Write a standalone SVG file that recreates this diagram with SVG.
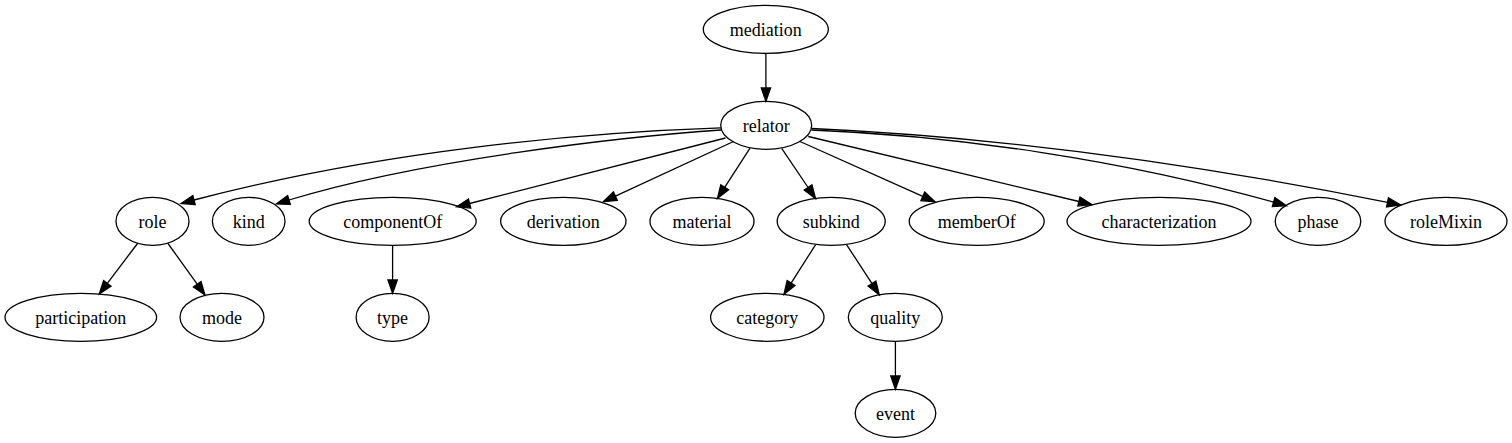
<svg xmlns="http://www.w3.org/2000/svg" width="1512" height="443" viewBox="0 0 1512 443">
<style>
.n ellipse{fill:none;stroke:#000;stroke-width:1.3}
.n text{font-family:"Liberation Serif","Times New Roman",serif;font-size:18px;fill:#000;text-anchor:middle}
.e path{fill:none;stroke:#000;stroke-width:1.3;marker-end:url(#ah)}
</style>
<defs>
<marker id="ah" markerUnits="userSpaceOnUse" markerWidth="16" markerHeight="12" refX="0" refY="4.67" orient="auto" overflow="visible">
<path d="M0,0 L13.3,4.67 L0,9.33 z" fill="#000" stroke="#000" stroke-width="1.3"/>
</marker>
</defs>
<rect width="1512" height="443" fill="#fff"/>
<g id="edges" class="e">
<path d="M765.9,53.3 L765.9,88"/>
<path d="M721,127.8 C580,132.5 380,151 194,200"/>
<path d="M721,130 C620,137 420,160 289,200"/>
<path d="M725.5,138 L469.6,203.5"/>
<path d="M733.5,141.5 L615.4,196.1"/>
<path d="M750,148.2 L724.7,187.3"/>
<path d="M781.7,148.3 L808.1,187.5"/>
<path d="M800,141.5 L922.8,196.3"/>
<path d="M808.3,136.5 L1078.9,201.5"/>
<path d="M811.5,130 C960,136 1123.6,160.1 1273.6,202.1"/>
<path d="M811.5,128.5 C1000,137 1200,164.8 1387.5,202.3"/>
<path d="M137.5,243.5 L107.3,283.3"/>
<path d="M168,243.5 L197.2,284.2"/>
<path d="M392.6,245.3 L392.6,280"/>
<path d="M815.5,244.8 L791.1,283.1"/>
<path d="M846.7,244.8 L872,283.6"/>
<path d="M895.4,341.3 L895.4,376"/>
</g>
<g id="mediation" class="n"><ellipse cx="765.8" cy="29.3" rx="62.5" ry="24"/><text x="765.8" y="35.5">mediation</text></g>
<g id="relator" class="n"><ellipse cx="766.2" cy="125.3" rx="45.5" ry="24"/><text x="766.2" y="131.5">relator</text></g>
<g id="role" class="n"><ellipse cx="152.5" cy="221.3" rx="36.5" ry="24"/><text x="152.5" y="227.5">role</text></g>
<g id="kind" class="n"><ellipse cx="248.7" cy="221.3" rx="36.3" ry="24"/><text x="248.7" y="227.5">kind</text></g>
<g id="componentOf" class="n"><ellipse cx="392.7" cy="221.3" rx="83.5" ry="24"/><text x="392.7" y="227.5">componentOf</text></g>
<g id="derivation" class="n"><ellipse cx="563.3" cy="221.3" rx="62.7" ry="24"/><text x="563.3" y="227.5">derivation</text></g>
<g id="material" class="n"><ellipse cx="702" cy="221.3" rx="52" ry="24"/><text x="702" y="227.5">material</text></g>
<g id="subkind" class="n"><ellipse cx="831.2" cy="221.3" rx="54" ry="24"/><text x="831.2" y="227.5">subkind</text></g>
<g id="memberOf" class="n"><ellipse cx="976.7" cy="221.3" rx="67.5" ry="24"/><text x="976.7" y="227.5">memberOf</text></g>
<g id="characterization" class="n"><ellipse cx="1159" cy="221.3" rx="92" ry="24"/><text x="1159" y="227.5">characterization</text></g>
<g id="phase" class="n"><ellipse cx="1318" cy="221.3" rx="42.8" ry="24"/><text x="1318" y="227.5">phase</text></g>
<g id="roleMixin" class="n"><ellipse cx="1446" cy="221.3" rx="61" ry="24"/><text x="1446" y="227.5">roleMixin</text></g>
<g id="participation" class="n"><ellipse cx="80.8" cy="317.3" rx="75.8" ry="24"/><text x="80.8" y="323.5">participation</text></g>
<g id="mode" class="n"><ellipse cx="222" cy="317.3" rx="42" ry="24"/><text x="222" y="323.5">mode</text></g>
<g id="type" class="n"><ellipse cx="392.6" cy="317.3" rx="36.5" ry="24"/><text x="392.6" y="323.5">type</text></g>
<g id="category" class="n"><ellipse cx="767.3" cy="317.3" rx="56.7" ry="24"/><text x="767.3" y="323.5">category</text></g>
<g id="quality" class="n"><ellipse cx="895.3" cy="317.3" rx="47" ry="24"/><text x="895.3" y="323.5">quality</text></g>
<g id="event" class="n"><ellipse cx="895.5" cy="413.3" rx="40.3" ry="24"/><text x="895.5" y="419.5">event</text></g>
</svg>
